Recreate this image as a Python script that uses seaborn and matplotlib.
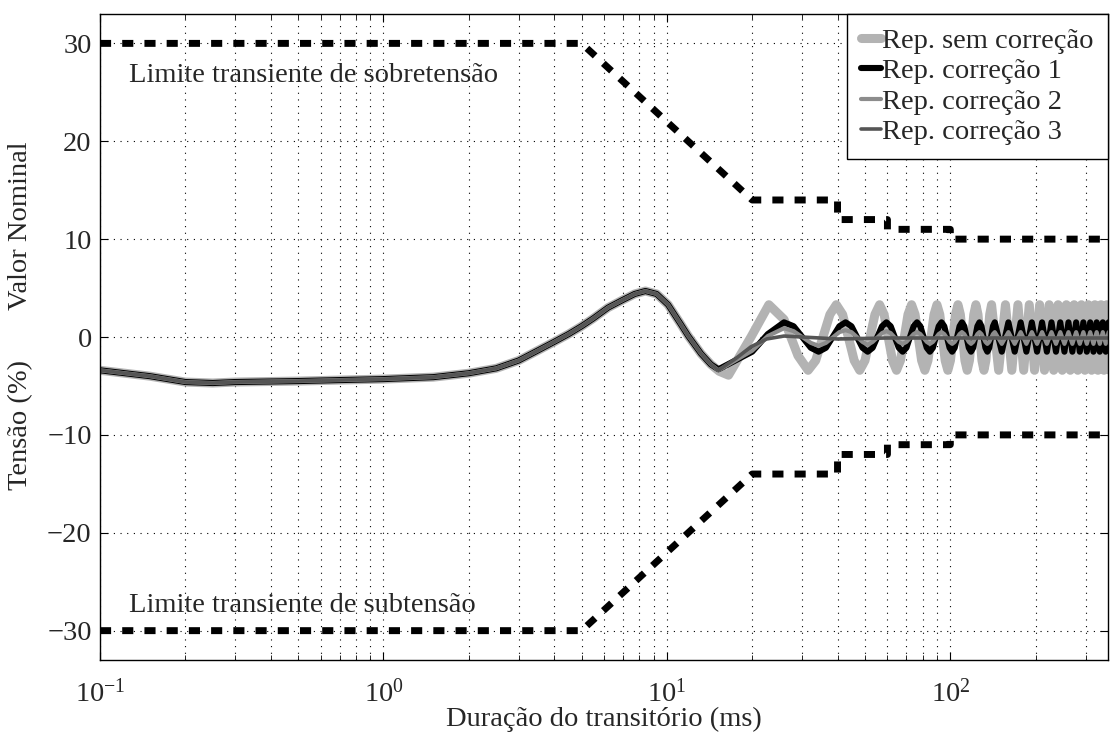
import matplotlib
matplotlib.use("Agg")
import matplotlib.pyplot as plt
import seaborn as sns
import numpy as np
from matplotlib.ticker import LogLocator, LogFormatterMathtext, NullFormatter, FixedLocator

# ---------------- data ----------------
# common part of all four curves (ms, %)
t_base = [0.1, 0.15, 0.2, 0.25, 0.3, 0.5, 0.7, 1.0, 1.5, 2.0, 2.5, 3.0, 3.6, 4.0, 4.5, 5.0,
          5.5, 6.2, 7.0, 7.7, 8.4, 9.2, 10.1, 11.2, 11.9, 13.2, 14.3]
v_base = [-3.4, -4.0, -4.6, -4.7, -4.6, -4.5, -4.4, -4.3, -4.1, -3.7, -3.2, -2.4, -1.2, -0.5, 0.3, 1.1,
          1.9, 3.0, 3.8, 4.4, 4.7, 4.4, 3.3, 1.3, 0.1, -1.7, -2.8]

# "Rep. sem correção" after 15 ms (read cycle by cycle)
t_sem_early = [15.3, 16.5, 19.8, 22.9, 25.9, 29.0,
               31.5, 33.5, 37.6, 39.6, 41.7, 45.8,
               47.9, 50.0, 54.2, 56.3, 58.4, 62.5,
               64.6, 66.7, 70.9, 73.0, 75.1, 79.2,
               81.3, 83.4, 87.6, 89.7, 91.8, 95.9,
               98.0, 100.1, 104.3, 106.4, 108.5, 112.6,
               114.7, 116.8, 121.0, 123.1, 125.2, 129.3,
               131.4, 133.5, 137.7, 139.8]
v_sem_early = [-3.5, -3.9, 0.0, 3.3, 1.8, -1.9,
               -3.4, -2.4, 2.3, 3.3, 2.3, -2.4,
               -3.4, -2.4, 2.3, 3.3, 2.3, -2.4,
               -3.4, -2.4, 2.3, 3.3, 2.3, -2.4,
               -3.4, -2.4, 2.3, 3.3, 2.3, -2.4,
               -3.4, -2.4, 2.3, 3.3, 2.3, -2.4,
               -3.4, -2.4, 2.3, 3.3, 2.3, -2.4,
               -3.4, -2.4, 2.3, 3.3]
t_sem_late = [148.1, 156.5, 164.8, 173.2, 181.5, 189.9, 198.2, 206.6, 214.9, 223.3,
              231.6, 240.0, 248.3, 256.7, 265.0, 273.4, 281.7, 290.1, 298.4, 306.8,
              315.1, 323.5, 331.8, 340.2, 348.5, 356.9, 365.2]
v_sem_late = [-3.4, 3.3, -3.4, 3.3, -3.4, 3.3, -3.4, 3.3, -3.4, 3.3,
              -3.4, 3.3, -3.4, 3.3, -3.4, 3.3, -3.4, 3.3, -3.4, 3.3,
              -3.4, 3.3, -3.4, 3.3, -3.4, 3.3, -3.4]

# "Rep. correção 1" and "Rep. correção 2" after 15 ms
t_c12_early = [15.2, 20.0, 22.7,
               25.9, 28.0, 32.2, 34.3, 36.4, 40.6,
               42.7, 44.8, 49.0, 51.1, 53.2, 57.4,
               59.5, 61.6, 65.8, 67.9, 70.0, 74.2,
               76.3, 78.4, 82.6, 84.7, 86.8, 91.0,
               93.1, 95.2, 99.4, 101.5, 103.6, 107.8,
               109.9, 112.0, 116.2, 118.3, 120.4, 124.6,
               126.7, 128.8, 133.0, 135.1, 137.2, 141.4]
v_c1_early = [-3.3, -1.5, 0.3,
              1.5, 1.1, -1.1, -1.5, -1.1, 1.1,
              1.5, 1.1, -1.1, -1.5, -1.1, 1.1,
              1.5, 1.1, -1.1, -1.5, -1.1, 1.1,
              1.5, 1.1, -1.1, -1.5, -1.1, 1.1,
              1.5, 1.1, -1.1, -1.5, -1.1, 1.1,
              1.5, 1.1, -1.1, -1.5, -1.1, 1.1,
              1.5, 1.1, -1.1, -1.5, -1.1, 1.1]
v_c2_early = [-3.4, -1.4, 0.1,
              0.9, 0.6, -0.6, -0.9, -0.6, 0.5,
              0.7, 0.5, -0.5, -0.8, -0.5, 0.4,
              0.6, 0.4, -0.5, -0.7, -0.5, 0.3,
              0.5, 0.3, -0.5, -0.7, -0.5, 0.3,
              0.5, 0.3, -0.5, -0.7, -0.5, 0.3,
              0.5, 0.3, -0.5, -0.7, -0.5, 0.3,
              0.5, 0.3, -0.5, -0.7, -0.5, 0.3]
t_c12_late = [143.5, 151.9, 160.3, 168.7, 177.1, 185.5, 193.9, 202.3, 210.7, 219.1,
              227.5, 235.9, 244.3, 252.7, 261.1, 269.5, 277.9, 286.3, 294.7, 303.1,
              311.5, 319.9, 328.3, 336.7, 345.1, 353.5, 361.9]
v_c1_late = [1.5, -1.5, 1.5, -1.5, 1.5, -1.5, 1.5, -1.5, 1.5, -1.5,
             1.5, -1.5, 1.5, -1.5, 1.5, -1.5, 1.5, -1.5, 1.5, -1.5,
             1.5, -1.5, 1.5, -1.5, 1.5, -1.5, 1.5]
v_c2_late = [0.5, -0.7, 0.5, -0.7, 0.5, -0.7, 0.5, -0.7, 0.5, -0.7,
             0.5, -0.7, 0.5, -0.7, 0.5, -0.7, 0.5, -0.7, 0.5, -0.7,
             0.5, -0.7, 0.5, -0.7, 0.5, -0.7, 0.5]

# "Rep. correção 3" after 15 ms
t_c3 = [15.2, 17.5, 19.8, 22.5, 25.9, 30.0, 40.0, 60.0, 100.0, 200.0, 365.0]
v_c3 = [-3.4, -2.2, -1.0, -0.2, 0.1, 0.0, -0.2, -0.1, -0.1, -0.1, -0.1]

# transient limits
t_lim = [0.1, 5.0, 20.0, 40.0, 40.0, 60.0, 60.0, 100.0, 100.0, 400.0]
v_lim_up = [30, 30, 14, 14, 12, 12, 11, 11, 10, 10]
v_lim_low = [-30, -30, -14, -14, -12, -12, -11, -11, -10, -10]

labels = ["Rep. sem correção", "Rep. correção 1", "Rep. correção 2", "Rep. correção 3"]
y_ticks = [-30, -20, -10, 0, 10, 20, 30]

# ---------------- style ----------------
sns.set_style("ticks")
plt.rcParams["font.family"] = ["Liberation Serif", "DejaVu Serif"]
plt.rcParams["mathtext.fontset"] = "custom"
plt.rcParams["mathtext.rm"] = "Liberation Serif"
plt.rcParams["mathtext.it"] = "Liberation Serif:italic"
FS = 20.5

fig = plt.figure(figsize=(11.11, 7.34), dpi=100)
ax = fig.add_axes([0.0900, 0.1008, 0.9073, 0.8801])

series = [
    (t_base + t_sem_early + t_sem_late, v_base + v_sem_early + v_sem_late, "#b3b3b3", 6.5),
    (t_base + t_c12_early + t_c12_late, v_base + v_c1_early + v_c1_late, "#000000", 4.4),
    (t_base + t_c12_early + t_c12_late, v_base + v_c2_early + v_c2_late, "#8c8c8c", 3.0),
    (t_base + t_c3, v_base + v_c3, "#555555", 2.6),
]
for (tx, vy, col, lw), lab in zip(series, labels):
    sns.lineplot(x=tx, y=vy, ax=ax, color=col, linewidth=lw, estimator=None,
                 sort=False, label=lab, solid_joinstyle="round")

for vl in (v_lim_up, v_lim_low):
    sns.lineplot(x=t_lim, y=vl, ax=ax, color="black", linewidth=5.0,
                 linestyle=(0, (1.6, 1.6)), estimator=None, sort=False)

ax.set_xscale("log")
ax.set_xlim(0.1, 360)
ax.set_ylim(-33, 33)
ax.yaxis.set_major_locator(FixedLocator(y_ticks))
ax.xaxis.set_major_locator(LogLocator(base=10))
ax.xaxis.set_minor_locator(LogLocator(base=10, subs=np.arange(2, 10)))
ax.xaxis.set_major_formatter(LogFormatterMathtext())
ax.xaxis.set_minor_formatter(NullFormatter())

ax.grid(True, which="both", axis="x", color="black", linestyle=(0, (1, 5)), linewidth=0.8)
ax.grid(True, which="major", axis="y", color="black", linestyle=(0, (1, 5)), linewidth=0.8)
ax.set_axisbelow(True)

for s in ax.spines.values():
    s.set_visible(True)
    s.set_linewidth(1.0)
    s.set_color("black")
ax.tick_params(which="both", direction="in", top=True, right=True, labelsize=FS, color="black")
ax.tick_params(which="major", length=6)
ax.tick_params(which="minor", length=3.5)
ax.tick_params(axis="x", which="major", pad=14)
ax.tick_params(axis="y", which="major", pad=6)

ax.set_xlabel("Duração do transitório (ms)", fontsize=FS, labelpad=-1)
ax.set_ylabel("")
ax.text(-0.079, 0.364, "Tensão (%)", transform=ax.transAxes, rotation=90,
        ha="center", va="center", fontsize=FS)
ax.text(-0.079, 0.673, "Valor Nominal", transform=ax.transAxes, rotation=90,
        ha="center", va="center", fontsize=FS)

ax.text(0.127, 26.1, "Limite transiente de sobretensão", fontsize=FS, ha="left", va="baseline")
ax.text(0.127, -28.1, "Limite transiente de subtensão", fontsize=FS, ha="left", va="baseline")

handles = ax.get_lines()[:4]
leg = ax.legend(handles, labels, loc="upper right", borderaxespad=0, frameon=True,
                fancybox=False, edgecolor="black", framealpha=1, fontsize=FS,
                handlelength=0.7, handletextpad=0.05, labelspacing=0.15, borderpad=0.5)
leg.get_frame().set_linewidth(1.0)

fig.savefig("out.png", dpi=100)
